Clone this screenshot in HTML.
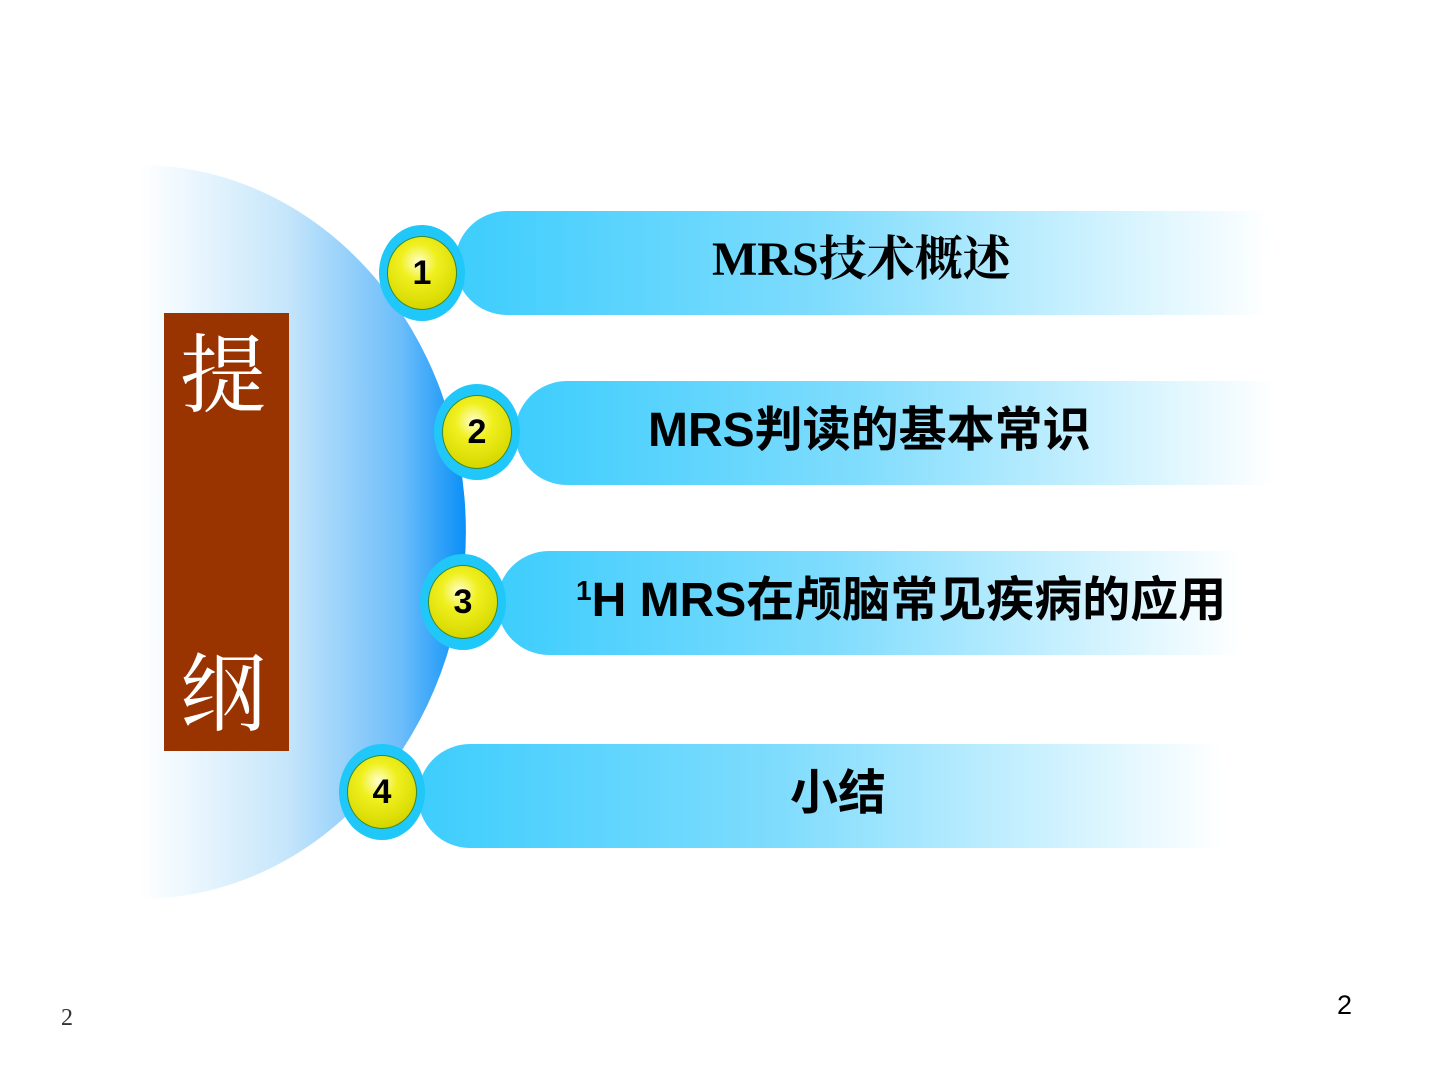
<!DOCTYPE html>
<html><head><meta charset="utf-8"><style>
body{margin:0;width:1440px;height:1080px;background:#fff;position:relative;overflow:hidden;font-family:"Liberation Sans","Noto Sans CJK SC",sans-serif}
.a{position:absolute}
.bar{position:absolute;height:104px;border-radius:52px 0 0 52px;background:linear-gradient(90deg,#3dcdfd 0%,#7fdcfd 45%,#ffffff 100%)}
.badge{position:absolute;width:86px;height:96px;border-radius:50%;background:#1fc8f8}
.badge div{position:absolute;left:8px;top:11px;width:68px;height:72px;border-radius:50%;border:1.5px solid #3a8a2a;background:radial-gradient(circle at 45% 35%,#ffffd0 0%,#f0f020 30%,#d8d800 75%,#b8a800 100%);font:bold 34px "Liberation Sans",sans-serif;color:#000;text-align:center;line-height:72px}
.t{position:absolute;font-weight:bold;font-size:48px;color:#000;white-space:nowrap;text-align:center}
</style></head><body>
<svg class="a" style="left:0;top:0" width="1440" height="1080">
<defs><linearGradient id="g" x1="140" y1="0" x2="466" y2="0" gradientUnits="userSpaceOnUse">
<stop offset="0" stop-color="#fff"/><stop offset="0.45" stop-color="#c6e6fb"/><stop offset="0.8" stop-color="#6cbdfa"/><stop offset="1" stop-color="#0a8ff8"/></linearGradient></defs>
<path d="M140 165 A326 367 0 0 1 140 899 Z" fill="url(#g)"/>
</svg>
<div class="a" style="left:164px;top:313px;width:125px;height:438px;background:#993300"></div>
<div class="a" style="left:180px;top:306px;font:86px 'Liberation Serif','Noto Serif CJK SC',serif;color:#fff">提</div>
<div class="a" style="left:180px;top:625px;font:86px 'Liberation Serif','Noto Serif CJK SC',serif;color:#fff">纲</div>

<div class="bar" style="left:455px;top:211px;width:815px"></div>
<div class="bar" style="left:515px;top:381px;width:760px"></div>
<div class="bar" style="left:497px;top:551px;width:745px"></div>
<div class="bar" style="left:418px;top:744px;width:805px"></div>

<div class="badge" style="left:379px;top:225px"><div>1</div></div>
<div class="badge" style="left:434px;top:384px"><div>2</div></div>
<div class="badge" style="left:420px;top:554px"><div>3</div></div>
<div class="badge" style="left:339px;top:744px"><div>4</div></div>

<div class="t" style="left:712px;top:220px;font-family:'Liberation Serif','Noto Serif CJK SC',serif">MRS技术概述</div>
<div class="t" style="left:648px;top:390px">MRS判读的基本常识</div>
<div class="t" style="left:576px;top:560px"><sup style="font-size:28px;vertical-align:16px">1</sup>H MRS在颅脑常见疾病的应用</div>
<div class="t" style="left:790px;top:753px">小结</div>

<div class="a" style="left:61px;top:1005px;font:24px 'Liberation Serif',serif;color:#333">2</div>
<div class="a" style="left:1337px;top:990px;font:27px 'Liberation Sans',sans-serif;color:#000">2</div>
</body></html>
